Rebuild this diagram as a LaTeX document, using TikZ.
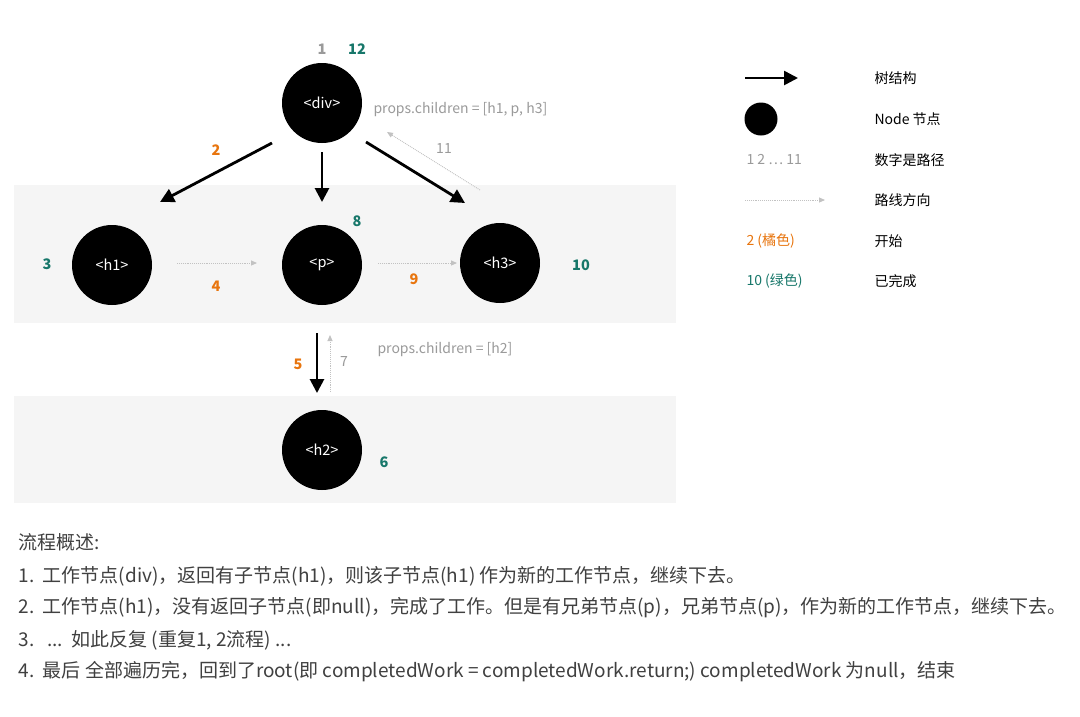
\documentclass[tikz,border=0pt]{standalone}
\usepackage{fontspec}
\setmainfont{Noto Sans CJK SC}
\usetikzlibrary{arrows.meta}
\definecolor{org}{HTML}{E8750E}
\definecolor{tl}{HTML}{17776A}
\definecolor{gtx}{HTML}{9A9A9A}
\definecolor{band}{HTML}{F5F5F5}
\begin{document}
\begin{tikzpicture}[x=1pt,y=-1pt,
  blob/.style={circle,fill=black,minimum size=80pt,inner sep=0pt,text=white,font=\fontsize{14.5}{14.5}\selectfont},
  tree/.style={line width=2.8pt,-{Triangle[length=14pt,width=14pt]}},
  route/.style={densely dotted,gtx!60,line width=0.9pt,-{Triangle[length=6pt,width=5pt]}},
  og/.style={text=org,font=\fontsize{14.5}{14.5}\selectfont\bfseries},
  tg/.style={text=tl,font=\fontsize{14.5}{14.5}\selectfont\bfseries},
  gg/.style={text=gtx,font=\fontsize{14}{14}\selectfont},
  lg/.style={anchor=west,font=\fontsize{14}{14}\selectfont},
  bt/.style={anchor=west,text=black!75,font=\fontsize{19}{19}\selectfont}]
\useasboundingbox (0,0) rectangle (1080,716);
\fill[white] (0,0) rectangle (1080,716);
\fill[band] (14,185) rectangle (676,323);
\fill[band] (14,396) rectangle (676,503);
\node[blob] (div) at (322,103) {<div>};
\node[blob] (h1) at (112,265) {<h1>};
\node[blob] (p) at (322,265) {<p>};
\node[blob] (h3) at (500,263) {<h3>};
\node[blob] (h2) at (322,450) {<h2>};
\coordinate (a1) at (272,143); \coordinate (b1) at (160,202);
\coordinate (a2) at (322,152); \coordinate (b2) at (322,202);
\coordinate (a3) at (366,142); \coordinate (b3) at (465,203);
\coordinate (c1) at (480,190); \coordinate (d1) at (387,132);
\draw[tree] (a1) -- (b1);
\draw[tree] (a2) -- (b2);
\draw[tree] (a3) -- (b3);
\draw[route] (c1) -- (d1);
\coordinate (e1) at (177,263); \coordinate (f1) at (257,263);
\coordinate (e2) at (378,263); \coordinate (f2) at (457,263);
\draw[route] (e1) -- (f1);
\draw[route] (e2) -- (f2);
\coordinate (g1) at (317,333); \coordinate (g2) at (317,393);
\coordinate (k1) at (330,392); \coordinate (k2) at (330,335);
\draw[tree] (g1) -- (g2);
\draw[route] (k1) -- (k2);
\node[gg,font=\fontsize{14.5}{14.5}\selectfont\bfseries] (n1) at (322,49) {1};
\node[tg] (n12) at (357,49) {12};
\node[og] (n2) at (216,150) {2};
\node[gg] (n11) at (444,149) {11};
\node[gg,anchor=west] (pc1) at (370,110) {props.children = [h1, p, h3]};
\node[tg] (n3) at (47,264) {3};
\node[og] (n4) at (216,286) {4};
\node[tg] (n8) at (357,221) {8};
\node[og] (n9) at (414,279) {9};
\node[tg] (n10) at (581,265) {10};
\node[og] (n5) at (298,364) {5};
\node[gg] (n7) at (344,362) {7};
\node[gg,anchor=west] (pc2) at (374,350) {props.children = [h2]};
\node[tg] (n6) at (384,462) {6};
% legend
\coordinate (la) at (745,78); \coordinate (lb) at (798,78);
\draw[tree,line width=2.6pt] (la) -- (lb);
\node[circle,fill=black,minimum size=33pt,inner sep=0pt] (lc) at (761,119) {};
\node[gg,anchor=west] (lnum) at (743,160) {1 2 … 11};
\coordinate (lda) at (745,200); \coordinate (ldb) at (825,200);
\draw[route] (lda) -- (ldb);
\node[anchor=west,text=org,font=\fontsize{14}{14}\selectfont] (lor) at (743,241) {2 (橘色)};
\node[anchor=west,text=tl,font=\fontsize{14}{14}\selectfont] (ltl) at (743,281) {10 (绿色)};
\node[lg] (t1) at (871,78) {树结构};
\node[lg] (t2) at (871,119) {Node 节点};
\node[lg] (t3) at (871,160) {数字是路径};
\node[lg] (t4) at (871,200) {路线方向};
\node[lg] (t5) at (871,241) {开始};
\node[lg] (t6) at (871,281) {已完成};
% text
\node[bt] (s0) at (15,542) {流程概述:};
\node[bt] (s1) at (15,576) {1.\ \ 工作节点(div)，返回有子节点(h1)，则该子节点(h1) 作为新的工作节点，继续下去。};
\node[bt] (s2) at (15,608) {2.\ \ 工作节点(h1)，没有返回子节点(即null)，完成了工作。但是有兄弟节点(p)，兄弟节点(p)，作为新的工作节点，继续下去。};
\node[bt] (s3) at (15,640) {3.\ \ \ ...\ \ 如此反复 (重复1, 2流程) ...};
\node[bt] (s4) at (15,672) {4.\ \ 最后 全部遍历完，回到了root(即 completedWork = completedWork.return;) completedWork 为null，结束};
\end{tikzpicture}
\end{document}
